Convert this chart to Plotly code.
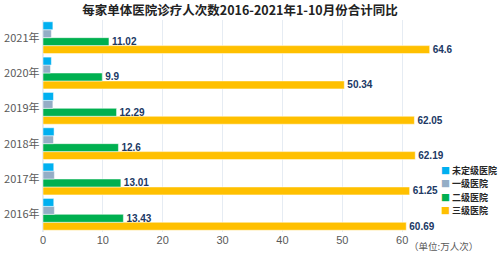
import plotly.graph_objects as go

years = ['2016年', '2017年', '2018年', '2019年', '2020年', '2021年']
unrated = [1.8, 1.8, 1.85, 1.75, 1.4, 1.65]
level1 = [1.9, 1.9, 1.75, 1.65, 1.25, 1.4]
level2 = [13.43, 13.01, 12.6, 12.29, 9.9, 11.02]
level3 = [60.69, 61.25, 62.19, 62.05, 50.34, 64.6]

series = [
    ('三级医院', level3, '#FFC000', True),
    ('二级医院', level2, '#00B050', True),
    ('一级医院', level1, '#94AEC6', False),
    ('未定级医院', unrated, '#00B0F0', False),
]

fig = go.Figure()
for name, vals, color, show in series:
    fig.add_trace(go.Bar(
        y=years, x=vals, name=name, orientation='h',
        marker=dict(color=color, line=dict(color='white', width=0.5)),
        text=['<b>%s</b>' % v for v in vals] if show else None,
        textposition='outside' if show else 'none',
        constraintext='none',
        textfont=dict(color='#203864', size=10, family='Arial, sans-serif'),
        cliponaxis=False,
        showlegend=False,
    ))

L, R, T, B = 43, 38, 20, 25
W, H = 500, 257
pw, ph = W - L - R, H - T - B

fig.update_layout(
    width=W, height=H,
    margin=dict(l=L, r=R, t=T, b=B, autoexpand=False),
    barmode='group', bargap=0.1, bargroupgap=0,
    plot_bgcolor='white', paper_bgcolor='white',
    font=dict(family='Noto Sans CJK SC, Arial, sans-serif', color='#595959'),
    title=dict(text='<b>每家单体医院诊疗人次数2016-2021年1-10月份合计同比</b>',
               x=0.48, xanchor='center', y=1 - 11 / H, yanchor='middle',
               font=dict(size=12.5, color='#222222')),
    showlegend=False,
)
fig.update_xaxes(range=[0, 70], tickvals=[0, 10, 20, 30, 40, 50, 60],
                 showgrid=True, gridcolor='#E6ECF3', gridwidth=1, zeroline=True,
                 zerolinecolor='#E6ECF3', tickfont=dict(size=11, color='#595959', family='Arial'),
                 ticks='', showline=False)
fig.update_yaxes(tickfont=dict(size=11, color='#595959', family='Noto Sans CJK SC, Arial'),
                 ticks='', showline=False, ticksuffix=' ')

# custom legend (top to bottom)
legend_items = [(name, color) for name, _, color, _ in reversed(series)]
for i, (name, color) in enumerate(legend_items):
    ypix = 170 + i * 13.6
    fig.add_annotation(
        text='<span style="color:%s">■</span> <b>%s</b>' % (color, name),
        xref='paper', yref='paper',
        x=(439 - L) / pw, y=(H - B - ypix) / ph,
        xanchor='left', yanchor='middle', showarrow=False,
        font=dict(size=9, color='#262626'))

fig.add_annotation(text='（单位:万人次）', xref='paper', yref='paper',
                   x=(407 - L) / pw, y=(H - B - 246) / ph,
                   xanchor='left', yanchor='middle', showarrow=False,
                   font=dict(size=9.5, color='#595959'))
fig.write_html('out.html')
